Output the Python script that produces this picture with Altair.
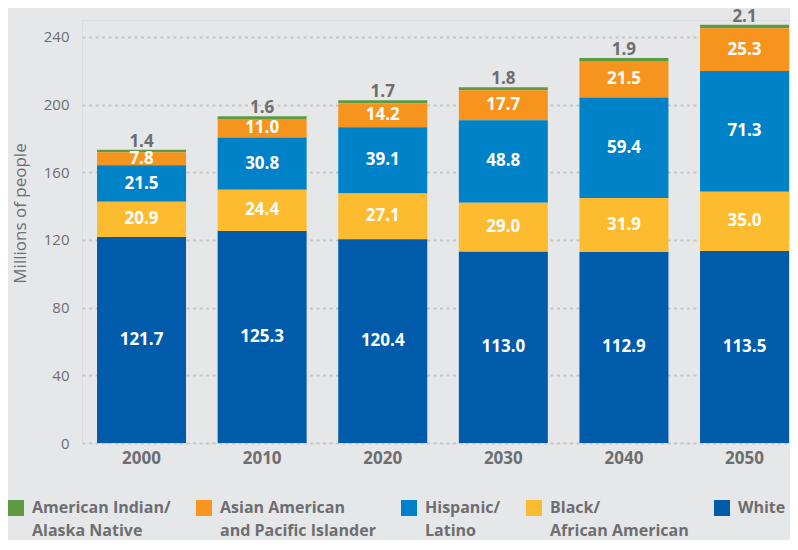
import altair as alt
import pandas as pd

years = ["2000", "2010", "2020", "2030", "2040", "2050"]
groups = ["American Indian/|Alaska Native", "Asian American|and Pacific Islander",
          "Hispanic/|Latino", "Black/|African American", "White|"]
colors = ["#5D9B43", "#F7941D", "#0082C8", "#FDBB30", "#005BAA"]
american_indian = [1.4, 1.6, 1.7, 1.8, 1.9, 2.1]
asian = [7.8, 11.0, 14.2, 17.7, 21.5, 25.3]
hispanic = [21.5, 30.8, 39.1, 48.8, 59.4, 71.3]
black = [20.9, 24.4, 27.1, 29.0, 31.9, 35.0]
white = [121.7, 125.3, 120.4, 113.0, 112.9, 113.5]
y_ticks = list(range(0, 241, 20))

series = [american_indian, asian, hispanic, black, white]
rows = []
for gi, (g, vals) in enumerate(zip(groups, series)):
    for y, v in zip(years, vals):
        rows.append({"year": y, "group": g, "value": v, "rank": 4 - gi,
                     "top": 1 if gi == 0 else 0})
df = pd.DataFrame(rows)

FONT = "Open Sans"
GRAY = "#6D6E71"

base = alt.Chart(df).transform_stack(
    stack="value", groupby=["year"], as_=["y0", "y1"],
    sort=[alt.SortField("rank", order="ascending")]
).transform_calculate(mid="(datum.y0 + datum.y1) / 2")

xenc = alt.X("year:N", title=None, sort=years,
             scale=alt.Scale(paddingInner=0.262, paddingOuter=0.0663, align=0.94),
             axis=alt.Axis(labelFont=FONT, labelFontSize=17, labelFontWeight="bold",
                           labelColor=GRAY, ticks=False, domain=False, labelPadding=7,
                           labelAngle=0, grid=False))
yscale = alt.Scale(domain=[0, 250], nice=False, zero=True)

bars = base.mark_bar().encode(
    x=xenc,
    y=alt.Y("y0:Q", scale=yscale,
            axis=alt.Axis(values=y_ticks, title="Millions of people", titleFont=FONT,
                          titleFontSize=17, titleFontWeight="normal", titleColor=GRAY,
                          titleX=-62, titleY=193, titleAngle=270, titleAlign="center",
                          titleBaseline="middle",
                          labelFont=FONT, labelFontSize=15, labelColor=GRAY,
                          labelOverlap=False, labelPadding=13, ticks=False, domain=False,
                          grid=True, gridColor="#C4C5C7", gridWidth=2,
                          gridDash=[3, 3.5])),
    y2="y1:Q",
    color=alt.Color("group:N", sort=groups,
                    scale=alt.Scale(domain=groups, range=colors),
                    legend=alt.Legend(orient="none", legendX=-74, legendY=480,
                                      direction="horizontal", columns=5, title=None,
                                      symbolType="square", symbolSize=256,
                                      symbolStrokeWidth=0, symbolOpacity=1,
                                      labelExpr="split(datum.label, '|')",
                                      labelFont=FONT, labelFontSize=16,
                                      labelFontWeight="bold", labelColor=GRAY,
                                      labelOffset=8, labelLimit=400,
                                      labelBaseline="middle",
                                      columnPadding=25)),
)

inner = base.transform_filter("datum.top == 0").mark_text(
    font=FONT, fontSize=17, fontWeight="bold", color="white", baseline="middle"
).encode(x=alt.X("year:N", sort=years), y=alt.Y("mid:Q", scale=yscale),
         text=alt.Text("value:Q", format=".1f"))

top = base.transform_filter("datum.top == 1").mark_text(
    font=FONT, fontSize=17, fontWeight="bold", color=GRAY, baseline="alphabetic", dy=-3
).encode(x=alt.X("year:N", sort=years), y=alt.Y("y1:Q", scale=yscale),
         text=alt.Text("value:Q", format=".1f"))

chart = alt.layer(bars, inner, top).properties(
    width=708, height=423,
    autosize=alt.AutoSizeParams(type="none"),
    padding={"left": 74, "top": 12, "right": 0, "bottom": 97},
    background="#E6E7E8",
).configure_view(stroke=None).configure(style={"guide-label": {"lineHeight": 23}})

chart.save("out.html", embed_options={"renderer": "svg", "actions": False})
